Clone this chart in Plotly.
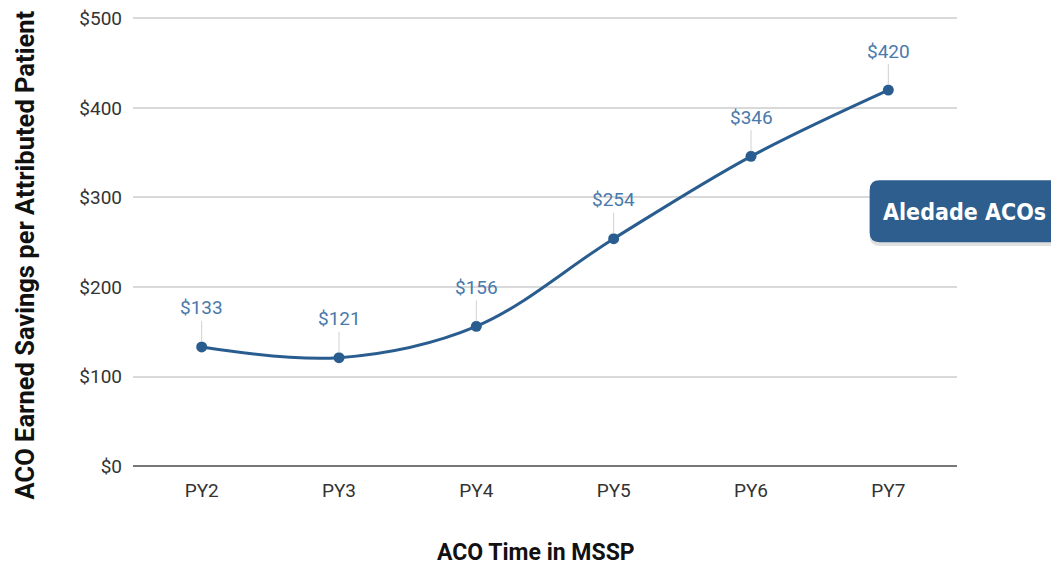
import plotly.graph_objects as go

categories = ["PY2", "PY3", "PY4", "PY5", "PY6", "PY7"]
savings = [133, 121, 156, 254, 346, 420]
y_ticks = [0, 100, 200, 300, 400, 500]
y_tick_labels = ["$0", "$100", "$200", "$300", "$400", "$500"]
series_name = "Aledade ACOs"
x_title = "ACO Time in MSSP"
y_title = "ACO Earned Savings per Attributed Patient"

line_color = "#2a5d8f"
label_color = "#4a7aab"

fig = go.Figure()
fig.add_trace(go.Scatter(
    x=categories, y=savings, mode="lines+markers",
    line=dict(color=line_color, width=3, shape="spline", smoothing=1.0),
    marker=dict(color=line_color, size=11),
    hoverinfo="skip", showlegend=False,
))

for c, v in zip(categories, savings):
    fig.add_annotation(
        x=c, y=v, text=f"${v}", showarrow=True, ax=0, ay=-39,
        arrowhead=0, arrowwidth=1, arrowcolor="#d0d0d0", standoff=5,
        font=dict(family="Roboto", size=19, color=label_color),
    )

# label box
x0, x1, y0, y1, r = 0.894, 1.13, 0.495, 0.632, 0.012
ry = r * 824 / 452
def rbox(dy):
    return (f"M {x0+r},{y0+dy} L {x1},{y0+dy} L {x1},{y1+dy} L {x0+r},{y1+dy} "
            f"Q {x0},{y1+dy} {x0},{y1-ry+dy} L {x0},{y0+ry+dy} Q {x0},{y0+dy} {x0+r},{y0+dy} Z")
fig.add_shape(type="path", xref="paper", yref="paper", path=rbox(-0.008),
              fillcolor="rgba(0,0,0,0.12)", line=dict(width=0), layer="above")
fig.add_shape(type="path", xref="paper", yref="paper", path=rbox(0),
              fillcolor="#2d5e8e", line=dict(width=0), layer="above")
fig.add_annotation(
    xref="paper", yref="paper", x=1.009, y=0.562, xanchor="center", yanchor="middle",
    text=f"<b>{series_name}</b>", showarrow=False,
    font=dict(family="DejaVu Sans Condensed, Roboto, sans-serif", size=23, color="white"),
)

# axis titles
fig.add_annotation(
    xref="paper", yref="paper", x=-0.131, y=0.466, xanchor="center", yanchor="middle",
    text=f"<b>{y_title}</b>", textangle=-90, showarrow=False,
    font=dict(family="Roboto", size=25.5, color="#111"),
)
fig.add_annotation(
    xref="paper", yref="paper", x=0.489, y=-0.192, xanchor="center", yanchor="middle",
    text=f"<b>{x_title}</b>", showarrow=False,
    font=dict(family="Roboto", size=23, color="#111"),
)

fig.update_layout(
    width=1051, height=558,
    margin=dict(l=125, r=102, t=6, b=100, autoexpand=False),
    paper_bgcolor="white", plot_bgcolor="white",
    font=dict(family="Roboto", color="#444"),
    xaxis=dict(
        type="category", range=[-0.5, 5.5], showgrid=False, zeroline=False,
        showline=False, ticks="", tickfont=dict(size=19, color="#333"),
        ticklabelstandoff=11, automargin=False,
    ),
    yaxis=dict(
        range=[0, 505], tickvals=y_ticks, ticktext=y_tick_labels,
        showgrid=True, gridcolor="#d9d9d9", gridwidth=2,
        zeroline=True, zerolinecolor="#777", zerolinewidth=2,
        tickfont=dict(size=19, color="#333"), ticks="", ticklabelstandoff=10,
        ticklabeloverflow="allow", automargin=False,
    ),
)

fig.write_html("out.html")
